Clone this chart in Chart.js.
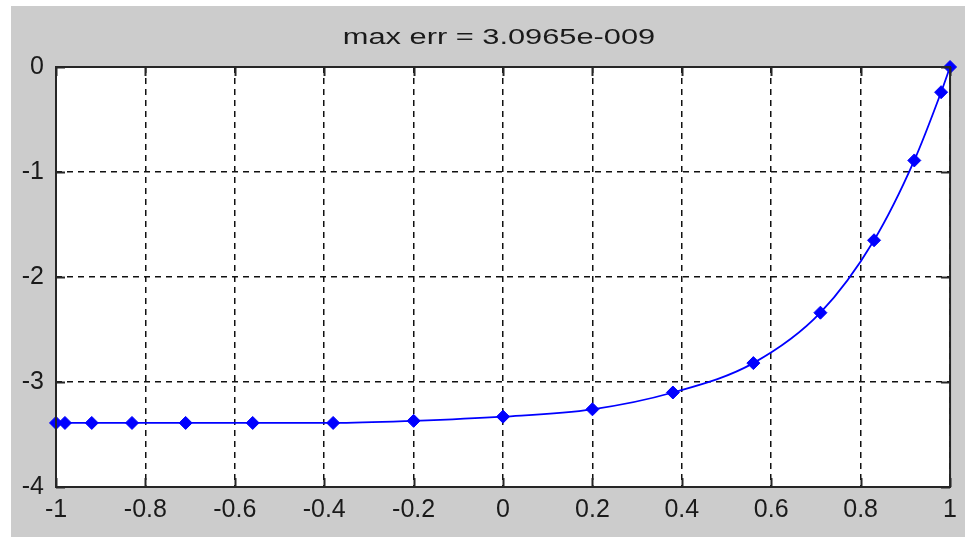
<!DOCTYPE html>
<html>
<head>
<meta charset="utf-8">
<script src="https://cdn.jsdelivr.net/npm/chart.js@4/dist/chart.umd.min.js"></script>
<style>
  html, body { margin: 0; padding: 0; background: #fff; }
  #frame { position: absolute; left: 11px; top: 6px; width: 954px; height: 531px; background: #cccccc; }
  canvas { display: block; }
</style>
</head>
<body>
<div id="frame"><canvas id="errChart" width="954" height="531"></canvas></div>
<script>
const titleText = 'max err = 3.0965e-009';

// sample points (chebyshev-like nodes) and values
const xNodes = [-1, -0.98, -0.92, -0.83, -0.71, -0.56, -0.38, -0.2, 0, 0.2, 0.38, 0.56, 0.71, 0.83, 0.92, 0.98, 1];
const yValues = [-3.39, -3.39, -3.39, -3.39, -3.39, -3.39, -3.39, -3.37, -3.33, -3.26, -3.10, -2.82, -2.34, -1.65, -0.89, -0.24, 0];

const xTicks = [-1, -0.8, -0.6, -0.4, -0.2, 0, 0.2, 0.4, 0.6, 0.8, 1];
const yTicks = [0, -1, -2, -3, -4];

const FONT = '"Liberation Sans", Arial, sans-serif';
const AXIS_COLOR = '#262626';

function fmt(v) {
  return String(Math.round(v * 10) / 10);
}

// matlab-style box + inward tick marks + stretched title
const boxPlugin = {
  id: 'box',
  afterDraw(chart) {
    const { ctx, chartArea: a, scales } = chart;
    const tl = 9;
    ctx.save();
    ctx.strokeStyle = AXIS_COLOR;
    ctx.lineWidth = 2;
    ctx.setLineDash([]);
    ctx.beginPath();
    xTicks.forEach(v => {
      const px = Math.round(scales.x.getPixelForValue(v)) + 0.5;
      ctx.moveTo(px, a.bottom); ctx.lineTo(px, a.bottom - tl);
      ctx.moveTo(px, a.top); ctx.lineTo(px, a.top + tl);
    });
    yTicks.forEach(v => {
      const py = Math.round(scales.y.getPixelForValue(v)) + 0.5;
      ctx.moveTo(a.left, py); ctx.lineTo(a.left + tl, py);
      ctx.moveTo(a.right, py); ctx.lineTo(a.right - tl, py);
    });
    ctx.stroke();
    ctx.strokeRect(a.left, a.top, a.right - a.left, a.bottom - a.top);

    ctx.fillStyle = '#1a1a1a';
    ctx.font = '22px ' + FONT;
    ctx.textAlign = 'center';
    ctx.textBaseline = 'middle';
    ctx.translate(488, 32);
    ctx.scale(1.4, 1);
    ctx.fillText(titleText, 0, 0);
    ctx.restore();
  }
};

const whiteArea = {
  id: 'whiteArea',
  beforeDraw(chart) {
    const { ctx, chartArea: a } = chart;
    ctx.save();
    ctx.fillStyle = '#ffffff';
    ctx.fillRect(a.left, a.top, a.right - a.left, a.bottom - a.top);
    ctx.restore();
  }
};

new Chart(document.getElementById('errChart'), {
  type: 'scatter',
  data: {
    datasets: [{
      data: xNodes.map((x, i) => ({ x, y: yValues[i] })),
      showLine: true,
      borderColor: '#0000ff',
      backgroundColor: '#0000ff',
      borderWidth: 1.8,
      cubicInterpolationMode: 'monotone',
      pointStyle: 'rectRot',
      pointRadius: 6.5,
      pointBorderWidth: 1,
      pointBorderColor: '#0000ff',
      pointBackgroundColor: '#0000ff',
      clip: false,
    }]
  },
  options: {
    responsive: false,
    animation: false,
    layout: { padding: { top: 61, right: 13, left: 0, bottom: 0 } },
    plugins: {
      legend: { display: false },
      tooltip: { enabled: false },
      title: { display: false },
    },
    scales: {
      x: {
        type: 'linear',
        min: -1,
        max: 1,
        afterBuildTicks: scale => { scale.ticks = xTicks.map(v => ({ value: v })); },
        afterFit: scale => { scale.height = 50; },
        grid: { color: '#111', lineWidth: 1.5, drawTicks: false },
        border: { display: false, dash: [6, 5] },
        ticks: {
          padding: 8,
          maxRotation: 0,
          autoSkip: false,
          color: '#1a1a1a',
          font: { family: FONT, size: 25 },
          callback: v => fmt(v),
        },
      },
      y: {
        type: 'linear',
        min: -4,
        max: 0,
        afterBuildTicks: scale => { scale.ticks = yTicks.map(v => ({ value: v })); },
        afterFit: scale => { scale.width = 45; },
        grid: { color: '#111', lineWidth: 1.5, drawTicks: false },
        border: { display: false, dash: [6, 5] },
        ticks: {
          padding: 12,
          autoSkip: false,
          color: '#1a1a1a',
          font: { family: FONT, size: 25 },
          callback: v => fmt(v),
        },
      },
    },
  },
  plugins: [whiteArea, boxPlugin],
});
</script>
</body>
</html>
